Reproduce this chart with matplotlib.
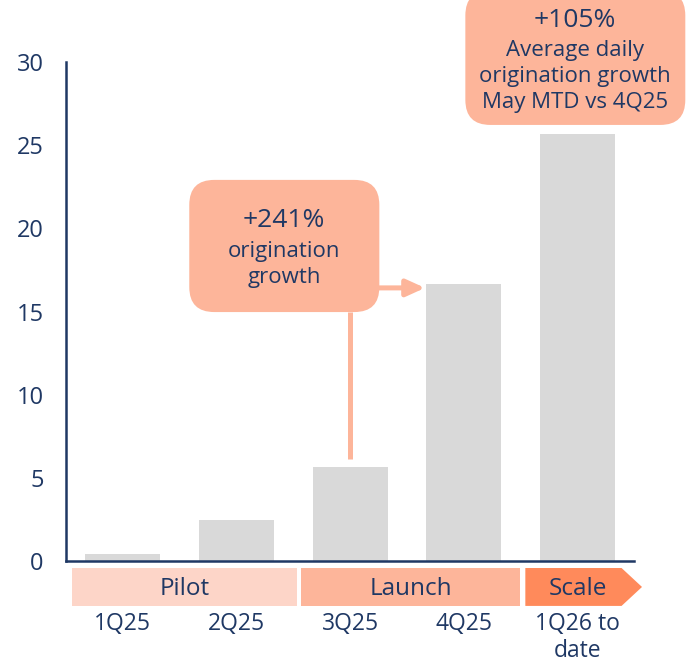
import matplotlib.pyplot as plt
from matplotlib.patches import FancyBboxPatch, Polygon, Rectangle

# data
quarters = ["1Q25", "2Q25", "3Q25", "4Q25", "1Q26 to\ndate"]
values = [0.42, 2.45, 5.65, 16.65, 25.7]
yticks = [0, 5, 10, 15, 20, 25, 30]
phases = ["Pilot", "Launch", "Scale"]
phase_span = [(-0.45, 1.535), (1.57, 3.5), (3.543, 4.39)]

navy = "#1F3864"
grey = "#D9D9D9"
salmon = "#FDB59A"
phase_cols = ["#FDD5C8", "#FDB59A", "#FF8A5B"]

plt.rcParams['font.family'] = ['Open Sans', 'DejaVu Sans']

fig = plt.figure(figsize=(6.97, 6.64), dpi=100)
ax = fig.add_axes([0.0947, 0.1551, 0.815, 0.7515])

x = list(range(len(quarters)))
ax.bar(x, values, width=0.66, color=grey, zorder=2)
ax.set_xlim(-0.5, 4.5)
ax.set_ylim(0, 30)
ax.set_yticks(yticks)
ax.set_yticklabels([str(t) for t in yticks], fontsize=17, color=navy)
ax.set_xticks(x)
ax.set_xticklabels(quarters, fontsize=16.5, color=navy, linespacing=1.15, va="top")
ax.tick_params(axis="y", length=0, pad=16)
ax.tick_params(axis="x", length=0, pad=37)
for s in ["top", "right"]:
    ax.spines[s].set_visible(False)
for s in ["left", "bottom"]:
    ax.spines[s].set_color(navy)
    ax.spines[s].set_linewidth(1.8)

# phase bands under the axis
y0, y1 = -2.7, -0.42
for i, (name, (a, b)) in enumerate(zip(phases, phase_span)):
    if name == "Scale":
        tip = 4.57
        poly = Polygon([(a, y0), (b, y0), (tip, (y0 + y1) / 2), (b, y1), (a, y1)],
                       closed=True, color=phase_cols[i], clip_on=False, lw=0)
        ax.add_patch(poly)
        cx = (a + b) / 2 + 0.04
    else:
        ax.add_patch(Rectangle((a, y0), b - a, y1 - y0, color=phase_cols[i],
                               clip_on=False, lw=0))
        cx = (a + b) / 2
    ax.text(cx, (y0 + y1) / 2 - 0.15, name, ha="center", va="center", fontsize=17.5,
            color=navy, clip_on=False)

# rounded callout boxes (mutation_aspect keeps the corners round in pixels)
asp = 113.6 / 16.63
def callout(x0, x1, yb, yt):
    box = FancyBboxPatch((x0 + 0.22, yb + 1.5), x1 - x0 - 0.44, yt - yb - 3.0,
                         boxstyle="round,pad=0.22", mutation_aspect=asp,
                         fc=salmon, ec="none", clip_on=False, zorder=4)
    ax.add_patch(box)

callout(0.585, 2.258, 14.97, 22.91)
ax.text(1.42, 20.45, "+241%", ha="center", va="center", fontsize=19, color=navy, zorder=5)
ax.text(1.42, 18.58, "origination", ha="center", va="center", fontsize=16, color=navy, zorder=5)
ax.text(1.42, 17.02, "growth", ha="center", va="center", fontsize=16, color=navy, zorder=5)

# connector from 3Q25 up to box, arrow across to 4Q25
ax.plot([2.0, 2.0], [values[2] + 0.5, 14.97], color=salmon, lw=3.6, zorder=3,
        solid_capstyle="butt")
ax.annotate("", xy=(2.66, 16.42), xytext=(2.25, 16.42),
            arrowprops=dict(arrowstyle="-|>,head_length=1.1,head_width=0.5",
                            color=salmon, lw=3.6, shrinkA=0, shrinkB=0), zorder=3)

callout(3.015, 4.951, 26.22, 34.3)
ax.text(3.98, 32.47, "+105%", ha="center", va="center", fontsize=19, color=navy,
        zorder=5, clip_on=False)
for txt, yy in zip(["Average daily", "origination growth", "May MTD vs 4Q25"],
                   [30.72, 29.1, 27.54]):
    ax.text(3.98, yy, txt, ha="center", va="center", fontsize=16, color=navy,
            zorder=5, clip_on=False)

fig.savefig("out.png", dpi=100)
